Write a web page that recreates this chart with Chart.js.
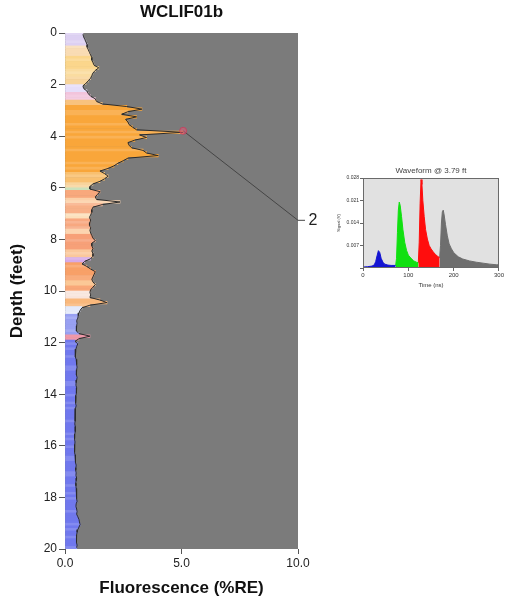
<!DOCTYPE html>
<html>
<head>
<meta charset="utf-8">
<script src="https://cdn.jsdelivr.net/npm/chart.js@4.4.1/dist/chart.umd.min.js"></script>
<style>
  body { margin: 0; background: #fff; }
  #logChart { position: absolute; left: 0; top: 0; }
  #waveChart { position: absolute; left: 333px; top: 163px; }
</style>
</head>
<body>
<canvas id="logChart" width="330" height="599"></canvas>
<canvas id="waveChart" width="172" height="127"></canvas>
<script>
// fluorescence (%RE) every 0.1 ft, 0.0 -> 19.9 ft
const fluor = [
  0.77, 0.80, 0.85, 0.90, 0.95, 0.95, 1.00, 1.05, 1.10, 1.15,
  1.15, 1.20, 1.25, 1.45, 1.30, 1.20, 1.15, 1.10, 1.00, 0.90,
  0.77, 0.80, 0.94, 1.00, 1.10, 1.30, 1.35, 1.60, 2.65, 3.30,
  2.70, 2.43, 3.07, 2.60, 2.70, 2.75, 2.90, 3.07, 5.07, 3.20,
  3.50, 3.00, 2.70, 2.75, 2.86, 3.35, 3.50, 4.00, 2.70, 2.50,
  2.27, 2.10, 1.85, 1.50, 1.70, 1.85, 1.70, 1.50, 1.20, 1.07,
  1.07, 1.50, 1.40, 1.30, 1.35, 2.36, 1.60, 1.20, 1.15, 1.15,
  1.10, 1.05, 1.10, 1.07, 1.05, 1.10, 1.07, 1.10, 1.15, 1.20,
  1.30, 1.15, 1.15, 1.20, 1.15, 1.20, 1.20, 1.10, 0.85, 0.73,
  0.94, 1.10, 1.30, 1.25, 1.20, 1.15, 1.20, 1.30, 1.20, 1.10,
  1.07, 1.10, 1.07, 1.50, 1.80, 1.07, 0.73, 0.65, 0.60, 0.57,
  0.55, 0.50, 0.52, 0.50, 0.48, 0.50, 0.60, 1.07, 0.60, 0.43,
  0.55, 0.50, 0.47, 0.45, 0.43, 0.45, 0.48, 0.50, 0.50, 0.52,
  0.50, 0.48, 0.50, 0.52, 0.50, 0.48, 0.47, 0.50, 0.50, 0.48,
  0.47, 0.45, 0.45, 0.47, 0.48, 0.45, 0.43, 0.44, 0.45, 0.43,
  0.43, 0.42, 0.44, 0.45, 0.43, 0.42, 0.40, 0.42, 0.43, 0.42,
  0.40, 0.41, 0.42, 0.43, 0.45, 0.44, 0.46, 0.48, 0.47, 0.46,
  0.48, 0.47, 0.50, 0.48, 0.46, 0.47, 0.48, 0.50, 0.50, 0.49,
  0.50, 0.52, 0.48, 0.47, 0.50, 0.52, 0.50, 0.55, 0.60, 0.62,
  0.65, 0.60, 0.55, 0.52, 0.50, 0.50, 0.48, 0.50, 0.52, 0.50
];
const depthFt = fluor.map((v, i) => i * 0.1 + 0.05);

// waveform colour class by depth (top of each zone, ft)
const zoneTops = [0, 0.5, 0.9, 1.4, 1.7, 2.0, 2.3, 2.6, 2.8, 5.4, 5.8, 6.0, 6.1, 6.4, 6.6, 7.0, 7.2, 7.6, 7.8, 8.4, 8.7, 8.9, 9.6, 9.8, 10.0, 10.3, 10.6, 10.9, 11.7, 11.9];
const zoneColors = ['#ddd0f2', '#f9dcb4', '#fbd68c', '#fadca0', '#f8d49a', '#e6defa', '#f2c4dc', '#f8c27e', '#f9a63a', '#f9c070',
  '#f8d49c', '#c4dcb0', '#f8a87c', '#fbd0a8', '#f8b088', '#fce0bc', '#f8a880', '#fcd4b0', '#f7a078', '#fbc89c',
  '#d6aae8', '#f8a068', '#fbc896', '#f9a878', '#f8e4dc', '#f9b87c', '#e4eafa', '#98a0f2', '#f098a8', '#7078ee'];

// waveform at 3.79 ft, per channel: time (ns) / signal (V)
const blueT = [0, 10, 20, 25, 28, 31, 34, 37, 40, 44, 48, 55, 62, 72];
const blueV = [0.0003, 0.0004, 0.0006, 0.001, 0.002, 0.0038, 0.0054, 0.0048, 0.003, 0.0018, 0.0012, 0.0009, 0.0008, 0.0008];
const greenT = [72, 74, 76, 78, 80, 82, 85, 88, 92, 96, 100, 106, 112, 118, 122];
const greenV = [0.0008, 0.003, 0.011, 0.018, 0.0205, 0.0195, 0.016, 0.012, 0.008, 0.0055, 0.004, 0.003, 0.0022, 0.0018, 0.0016];
const redT = [122, 124, 126, 128, 130, 132, 135, 138, 142, 146, 150, 155, 160, 165, 169];
const redV = [0.0016, 0.008, 0.02, 0.0275, 0.026, 0.021, 0.016, 0.012, 0.009, 0.007, 0.006, 0.005, 0.0042, 0.0036, 0.0032];
const greyT = [169, 171, 173, 175, 177, 179, 182, 186, 190, 195, 200, 210, 220, 235, 250, 265, 280, 295, 300];
const greyV = [0.0032, 0.007, 0.014, 0.0175, 0.018, 0.0165, 0.0135, 0.01, 0.0075, 0.006, 0.0048, 0.0035, 0.0028, 0.0022, 0.0018, 0.0015, 0.0012, 0.001, 0.001];

const pickDepth = 3.79;
const pickValue = 5.07;

function lighten(hex, f) {
  const n = parseInt(hex.slice(1), 16);
  const r = (n >> 16) & 255, g = (n >> 8) & 255, b = n & 255;
  const m = c => Math.round(c + (255 - c) * f);
  return 'rgb(' + m(r) + ',' + m(g) + ',' + m(b) + ')';
}

const barColors = depthFt.map((d, i) => {
  let k = 0;
  for (let z = 0; z < zoneTops.length; z++) if (d >= zoneTops[z]) k = z;
  return (i % 5 === 0 || i % 7 === 3) ? lighten(zoneColors[k], 0.14) : zoneColors[k];
});

const FONT = "'Liberation Sans', Arial, sans-serif";

const textPlugin = {
  id: 'texts',
  beforeDatasetsDraw(chart, args, opts) {
    const a = chart.chartArea;
    const c = chart.ctx;
    c.save();
    c.fillStyle = opts.bg;
    c.fillRect(a.left, a.top, a.right - a.left, a.bottom - a.top);
    c.restore();
  },
  afterDraw(chart, args, opts) {
    const a = chart.chartArea;
    const c = chart.ctx;
    c.save();
    if (opts.frame) {
      c.strokeStyle = opts.frame;
      c.lineWidth = 1;
      c.strokeRect(a.left + 0.5, a.top + 0.5, a.right - a.left - 1, a.bottom - a.top - 1);
    }
    c.fillStyle = opts.color;
    c.font = opts.font;
    c.textAlign = 'center';
    c.textBaseline = 'middle';
    c.fillText(opts.title, (a.left + a.right) / 2, a.top - opts.offset);
    if (opts.callout) {
      const xs = chart.scales.x, ys = chart.scales.y;
      c.font = '16px ' + FONT;
      c.fillStyle = '#222';
      c.textAlign = 'left';
      c.fillText(opts.callout, xs.getPixelForValue(10.45), ys.getPixelForValue(7.26));
    }
    c.restore();
  }
};

new Chart(document.getElementById('logChart'), {
  type: 'bar',
  data: {
    datasets: [
      {
        type: 'line',
        indexAxis: 'y',
        data: [{ x: pickValue, y: pickDepth }, { x: 10, y: 7.26 }, { x: 10.3, y: 7.26 }],
        borderColor: '#454545',
        borderWidth: 1,
        pointRadius: [3.5, 0, 0],
        pointBackgroundColor: 'rgba(225,90,120,0.55)',
        pointBorderColor: 'rgba(200,60,90,0.8)',
        pointBorderWidth: 1,
        clip: false,
        order: 0
      },
      {
        type: 'line',
        indexAxis: 'y',
        data: depthFt.map((d, i) => ({ x: fluor[i], y: d })),
        borderColor: '#2b2b2b',
        borderWidth: 1,
        pointRadius: 0,
        tension: 0,
        order: 1
      },
      {
        data: depthFt.map((d, i) => ({ x: fluor[i], y: d })),
        backgroundColor: barColors,
        borderWidth: 0,
        barPercentage: 1,
        categoryPercentage: 1,
        order: 2
      }
    ]
  },
  options: {
    indexAxis: 'y',
    responsive: false,
    animation: false,
    layout: { padding: { top: 33, left: 0, right: 32, bottom: 0 } },
    plugins: {
      legend: { display: false },
      tooltip: { enabled: false },
      texts: { bg: '#7b7b7b', title: 'WCLIF01b', font: 'bold 17px ' + FONT, color: '#111', offset: 21, callout: '2' }
    },
    scales: {
      x: {
        type: 'linear', min: 0, max: 10,
        afterFit: s => { s.height = 50; },
        grid: { drawOnChartArea: false, drawTicks: true, tickLength: 5, color: '#555' },
        border: { display: false },
        ticks: { stepSize: 5, padding: 2, color: '#222', font: { family: FONT, size: 12 }, callback: v => v.toFixed(1) },
        title: { display: true, text: 'Fluorescence (%RE)', color: '#111', font: { family: FONT, size: 17, weight: 'bold' }, padding: { top: 4, bottom: 0 } }
      },
      y: {
        type: 'linear', min: 0, max: 20, reverse: true, offset: false,
        afterFit: s => { s.width = 65; },
        grid: { offset: false, drawOnChartArea: false, drawTicks: true, tickLength: 6, color: '#555' },
        border: { display: false },
        ticks: { stepSize: 2, padding: 2, color: '#222', font: { family: FONT, size: 12 } },
        title: { display: true, text: 'Depth (feet)', color: '#111', font: { family: FONT, size: 17, weight: 'bold' }, padding: { top: 7, bottom: 0 } }
      }
    }
  },
  plugins: [textPlugin]
});

function channel(t, v, col) {
  return {
    data: t.map((x, i) => ({ x: x, y: v[i] })),
    borderColor: col,
    backgroundColor: col,
    borderWidth: 1,
    pointRadius: 0,
    fill: 'origin',
    tension: 0
  };
}

new Chart(document.getElementById('waveChart'), {
  type: 'line',
  data: {
    datasets: [
      channel(blueT, blueV, '#1414d2'),
      channel(greenT, greenV, '#10e010'),
      channel(redT, redV, '#ff0d0d'),
      channel(greyT, greyV, '#6e6e6e')
    ]
  },
  options: {
    responsive: false,
    animation: false,
    layout: { padding: { top: 15, left: 0, right: 3, bottom: 0 } },
    plugins: {
      legend: { display: false },
      tooltip: { enabled: false },
      texts: { bg: '#e1e1e1', frame: '#6a6a6a', title: 'Waveform @ 3.79 ft', font: '8px ' + FONT, color: '#444', offset: 7 }
    },
    scales: {
      x: {
        type: 'linear', min: 0, max: 300,
        afterFit: s => { s.height = 22; },
        grid: { drawOnChartArea: false, tickLength: 3, color: '#666' },
        border: { display: false },
        ticks: { stepSize: 100, padding: 1, color: '#333', font: { family: FONT, size: 6 }, maxRotation: 0 },
        title: { display: true, text: 'Time (ns)', color: '#333', font: { family: FONT, size: 6 }, padding: { top: 1, bottom: 1 } }
      },
      y: {
        type: 'linear', min: 0, max: 0.028,
        afterFit: s => { s.width = 30; },
        grid: { drawOnChartArea: false, tickLength: 3, color: '#666' },
        border: { display: false },
        ticks: { stepSize: 0.007, padding: 1, color: '#333', font: { family: FONT, size: 5 }, callback: v => v === 0 ? '' : v.toFixed(3) },
        title: { display: true, text: 'Signal (V)', color: '#333', font: { family: FONT, size: 4 }, padding: { top: 3, bottom: 0 } }
      }
    }
  },
  plugins: [textPlugin]
});
</script>
</body>
</html>
